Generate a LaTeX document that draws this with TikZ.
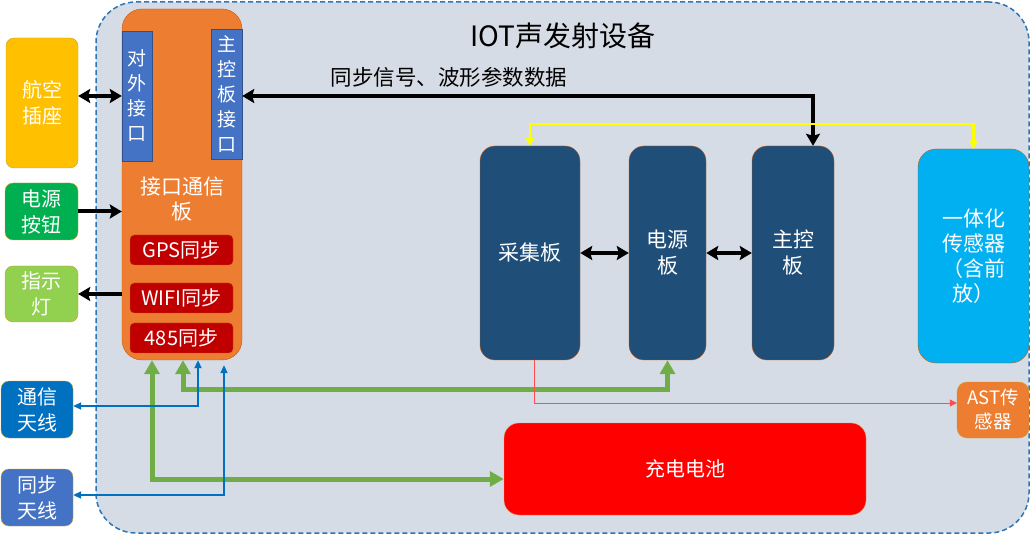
\documentclass[tikz,border=0pt]{standalone}
\usepackage{fontspec}
\setmainfont{Noto Sans CJK SC}
\usetikzlibrary{arrows.meta}
\definecolor{bgc}{HTML}{D6DCE5}
\definecolor{bdc}{HTML}{2E75B6}
\definecolor{gold}{HTML}{FFC000}
\definecolor{goldb}{HTML}{C9A227}
\definecolor{grn}{HTML}{00B050}
\definecolor{lgrn}{HTML}{92D050}
\definecolor{blu}{HTML}{0070C0}
\definecolor{mblu}{HTML}{4472C4}
\definecolor{org}{HTML}{ED7D31}
\definecolor{orgb}{HTML}{C55A11}
\definecolor{drd}{HTML}{C00000}
\definecolor{navy}{HTML}{1F4E79}
\definecolor{sky}{HTML}{00B0F0}
\definecolor{garr}{HTML}{70AD47}
\definecolor{ylw}{HTML}{FFFF00}
\newcommand{\fsz}[2]{\fontsize{#1}{#2}\selectfont}
\tikzset{
  box/.style={rounded corners=#1, inner sep=0pt, align=center, text=white},
  box/.default=8pt,
  blk/.style={line width=4pt, draw=black, {Stealth[length=12pt,width=14pt,inset=2pt]}-{Stealth[length=12pt,width=14pt,inset=2pt]}},
  blkone/.style={line width=4pt, draw=black, -{Stealth[length=12pt,width=14pt,inset=2pt]}},
  gline/.style={line width=5pt, draw=garr, {Triangle[length=14pt,width=15pt]}-{Triangle[length=14pt,width=15pt]}},
  bline/.style={line width=2pt, draw=blu, {Triangle[length=8pt,width=7pt]}-{Triangle[length=8pt,width=7pt]}},
  yline/.style={line width=2.2pt, draw=ylw, {Triangle[length=8pt,width=9pt]}-{Triangle[length=8pt,width=9pt]}},
  rline/.style={line width=0.8pt, draw=red!70, -{Triangle[length=7pt,width=7pt]}},
}
\begin{document}
\begin{tikzpicture}[x=1pt,y=-1pt]
\useasboundingbox (0,0) rectangle (1031,537);
% container
\node[draw=bdc, fill=bgc, dash pattern=on 5pt off 3pt, line width=1.5pt, rounded corners=40pt, minimum width=933pt, minimum height=531pt, inner sep=0pt] (dev) at (562.5,267.5) {};
\node[inner sep=0pt, font=\fsz{28}{32}] (title) at (563,36) {IOT声发射设备};
% left external boxes
\node[box, fill=gold, draw=goldb, minimum width=72pt, minimum height=130pt, font=\fsz{20}{26}] (hk) at (42,103) {航空\\插座};
\node[box, fill=grn, draw=goldb, minimum width=73pt, minimum height=57pt, font=\fsz{20}{26}] (dy) at (41.5,211.5) {电源\\按钮};
\node[box, fill=lgrn, draw=goldb, minimum width=73pt, minimum height=56pt, font=\fsz{20}{26}] (zsd) at (41.5,294) {指示\\灯};
\node[box, fill=blu, draw=goldb, minimum width=72pt, minimum height=57pt, font=\fsz{20}{26}] (tx) at (37,409.5) {通信\\天线};
\node[box, fill=mblu, draw=goldb, minimum width=72pt, minimum height=57pt, font=\fsz{20}{26}] (tb) at (37,497.5) {同步\\天线};
% interface board
\node[box=20pt, fill=org, draw=orgb, minimum width=120pt, minimum height=351pt] (board) at (182,184.5) {};
\node[box=0pt, fill=mblu, draw=mblu!70!black, minimum width=30pt, minimum height=130pt, font=\fsz{19}{25}] (dw) at (137,96) {对\\外\\接\\口};
\node[box=0pt, fill=mblu, draw=mblu!70!black, minimum width=31pt, minimum height=130pt, font=\fsz{19}{25}] (zk) at (226.5,94) {主\\控\\板\\接\\口};
\node[inner sep=0pt, align=center, text=white, font=\fsz{21}{25}] (blab) at (182,199) {接口通信\\板};
\node[box=4pt, fill=drd, draw=orgb, minimum width=103pt, minimum height=30pt, font=\fsz{20}{22}] (gps) at (181.5,250) {GPS同步};
\node[box=4pt, fill=drd, draw=orgb, minimum width=103pt, minimum height=30pt, font=\fsz{20}{22}] (wifi) at (181.5,298) {WIFI同步};
\node[box=4pt, fill=drd, draw=orgb, minimum width=103pt, minimum height=30pt, font=\fsz{20}{22}] (s485) at (181.5,338) {485同步};
% inner boards
\node[box=15pt, fill=navy, draw=orgb, minimum width=100pt, minimum height=214pt, font=\fsz{21}{26}] (cj) at (530,253) {采集板};
\node[box=15pt, fill=navy, draw=orgb, minimum width=77pt, minimum height=214pt, font=\fsz{21}{26}] (dyb) at (667.5,253) {电源\\板};
\node[box=15pt, fill=navy, draw=orgb, minimum width=82pt, minimum height=214pt, font=\fsz{21}{26}] (zkb) at (793,253) {主控\\板};
\node[box=18pt, fill=sky, draw=orgb, minimum width=111pt, minimum height=214pt, font=\fsz{21}{25}] (yth) at (973.5,256) {一体化\\传感器\\（含前\\放）};
\node[box=10pt, fill=org, draw=goldb, minimum width=72pt, minimum height=56pt, font=\fsz{18.5}{24}] (ast) at (993,410) {AST传\\感器};
\node[box=15pt, fill=red, draw=orgb!60, minimum width=362pt, minimum height=92pt, font=\fsz{20}{24}] (bat) at (685,469) {充电电池};
% label
\node[inner sep=0pt, font=\fsz{21.5}{24}] (sig) at (449,77) {同步信号、波形参数数据};
% coordinates
\coordinate (yl) at (530,124);
\coordinate (g1) at (152,479);
\coordinate (g2) at (183,389);
\coordinate (b1) at (198,406);
\coordinate (b2) at (224,495);
\coordinate (r1) at (534,403);
\coordinate (mk) at (813,96);
% connectors
\draw[blk] (hk.east |- dw.west) -- (dw.west);
\draw[blkone] (dy.east) -- (board.west |- dy.east);
\draw[blkone] (board.west |- zsd.east) -- (zsd.east);
\draw[blk] (zk.east |- mk) -- (mk) -- (mk |- zkb.north);
\draw[yline] (cj.north) -- (cj.north |- yl) -| (yth.north);
\draw[blk] (cj.east) -- (dyb.west);
\draw[blk] (dyb.east) -- (zkb.west);
\draw[gline] (board.south -| g1) -- (g1) -- (g1 -| bat.west);
\draw[gline] (board.south -| g2) -- (g2) -| (dyb.south);
\draw[bline] (board.south -| b1) -- (b1) -- (b1 -| tx.east);
\draw[bline, shorten <=5pt] (board.south -| b2) -- (b2) -- (b2 -| tb.east);
\draw[rline] (cj.south -| r1) -- (r1) -- (r1 -| ast.west);
\end{tikzpicture}
\end{document}
